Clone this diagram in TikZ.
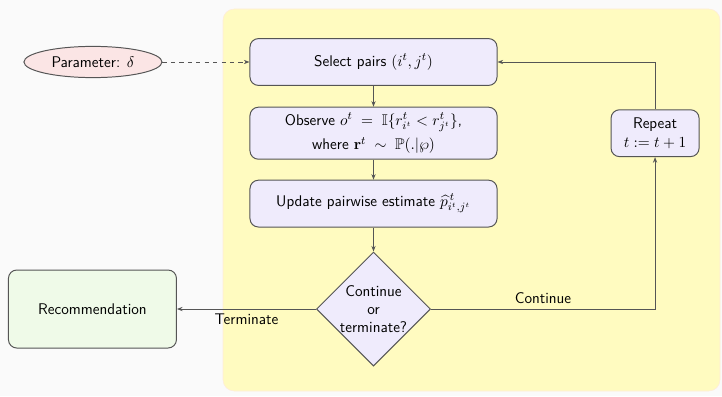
\documentclass[tikz,border=0pt]{standalone}
\usepackage{amsmath}
\usepackage{amssymb}
\usepackage{tikz}
\usetikzlibrary{arrows.meta,positioning,shapes.geometric}

\definecolor{panelyellow}{RGB}{255,251,192}
\definecolor{boxlilac}{RGB}{239,235,252}
\definecolor{parampink}{RGB}{251,229,229}
\definecolor{recgreen}{RGB}{239,250,232}
\definecolor{edgegray}{RGB}{85,85,85}

\begin{document}
\begin{tikzpicture}[x=0.025cm,y=0.025cm,>={Stealth[length=4pt,width=3pt]},
  every node/.style={font=\sffamily\fontsize{11}{13}\selectfont},
  stepbox/.style={rectangle,rounded corners=6pt,draw=edgegray,fill=boxlilac,
    line width=0.7pt,minimum width=6.175cm,minimum height=1.17cm,align=center},
  param/.style={ellipse,draw=edgegray,fill=parampink,line width=0.7pt,
    minimum width=3.45cm,minimum height=0.78cm},
  decide/.style={diamond,draw=edgegray,fill=boxlilac,line width=0.7pt,
    aspect=1,inner sep=-1pt,minimum size=2.85cm,align=center},
  loopbox/.style={stepbox,minimum width=2.2cm},
  result/.style={stepbox,fill=recgreen,minimum width=4.2cm,minimum height=1.95cm},
  link/.style={->,draw=edgegray,line width=0.6pt}]

% page and loop panel
\useasboundingbox (0,0) rectangle (722,396);
\fill[gray!4] (0,0) rectangle (722,396);
\draw[fill=panelyellow,draw=orange!15,rounded corners=8pt] (223,5) rectangle (720,387);

% main column
\node (select) [stepbox] at (373.5,334) {Select pairs $(i^t, j^t)$};
\node (observe) [stepbox,minimum height=1.3cm,below=0.52cm of select]
  {Observe $o^t \;=\; \mathbb{I}\{r^t_{i^t} < r^t_{j^t}\}$,\\[3pt]
   where $\mathbf{r}^t \;\sim\; \mathbb{P}(.|\wp)$};
\node (update) [stepbox,below=0.5cm of observe]
  {Update pairwise estimate $\widehat{p}^{\,t}_{i^t,j^t}$};
\node (dec) [decide,below=0.6cm of update] {Continue\\or\\terminate?};

% side nodes
\node (delta) [param,left=2.175cm of select] {Parameter: $\delta$};
\node (repeat) [loopbox,right=2.825cm of observe] {Repeat\\$t := t+1$};
\node (rec) [result,left=3.475cm of dec] {Recommendation};

% connectors
\draw[link,dashed] (delta) -- (select);
\draw[link] (select) -- (observe);
\draw[link] (observe) -- (update);
\draw[link] (update) -- (dec);
\draw[link] (dec.east) -| node[pos=0.25,above] {Continue} (repeat.south);
\draw[link] (repeat.north) |- (select.east);
\draw[link] (dec.west) -- node[midway,below] {Terminate} (rec.east);
\end{tikzpicture}
\end{document}
